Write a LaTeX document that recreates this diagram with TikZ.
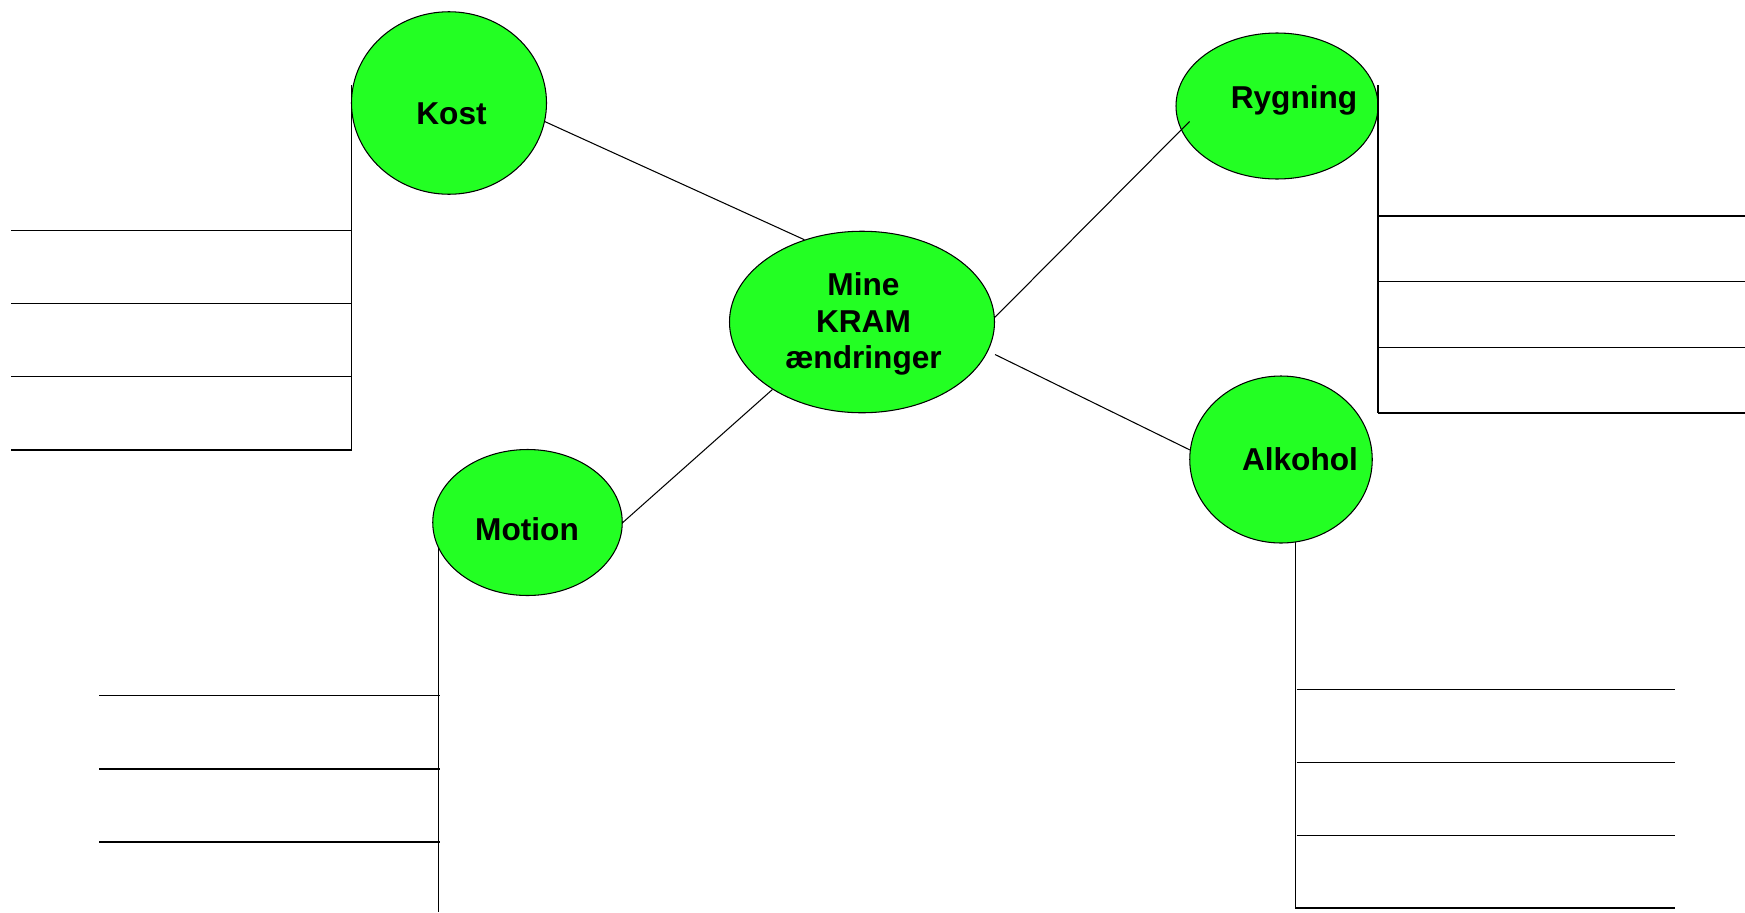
\documentclass[tikz,border=0pt]{standalone}
\usepackage{fontspec}
\setmainfont{Liberation Sans}
\usetikzlibrary{shapes.geometric}
\definecolor{kramgreen}{RGB}{35,255,35}

\begin{document}
\begin{tikzpicture}[line width=0.6pt,
 bubble/.style={draw,ellipse,fill=kramgreen,inner sep=0pt},
 tag/.style={font=\fontsize{18}{20.6}\selectfont\bfseries,inner sep=0pt,align=center}]
\useasboundingbox (0,0) rectangle (34.9,-18.24);
\node[bubble,minimum width=3.90cm,minimum height=3.65cm] (kost) at (8.98,-2.06) {};
\node[bubble,minimum width=5.30cm,minimum height=3.63cm] (mine) at (17.24,-6.44) {};
\node[bubble,minimum width=4.04cm,minimum height=2.92cm] (rygning) at (25.54,-2.12) {};
\node[bubble,minimum width=3.65cm,minimum height=3.34cm] (alkohol) at (25.62,-9.19) {};
\node[bubble,minimum width=3.79cm,minimum height=2.92cm] (motion) at (10.55,-10.45) {};
\node[tag,anchor=base] (kosttxt) at (9.03,-2.48) {Kost};
\node[tag] (minetxt) at (17.27,-6.48) {Mine\\KRAM\\ændringer};
\node[tag,anchor=base] (rygningtxt) at (25.88,-2.16) {Rygning};
\node[tag,anchor=base] (alkoholtxt) at (26.00,-9.40) {Alkohol};
\node[tag,anchor=base] (motiontxt) at (10.54,-10.80) {Motion};
% connectors
\draw (kost.349) -- (mine.125.6);
\draw (mine.2.5) -- ([shift={(-1.75,-0.31)}]rygning.center);
\draw ([yshift=-0.65cm]mine.east) -- (alkohol.174);
\draw (mine.217) -- (motion.east);
% writing lines
\draw (7.03,-1.70) -- (7.03,-9.00);
\foreach \y in {-4.61,-6.07,-7.53,-9.00} \draw (0.23,\y) -- (7.03,\y);
\draw (27.56,-1.70) -- (27.56,-8.26);
\foreach \y in {-4.32,-5.63,-6.95,-8.26} \draw (27.56,\y) -- (34.9,\y);
\draw (motion.196.5) -- (motion.196.5 |- 0,-18.24);
\foreach \y in {-13.91,-15.38,-16.84} \draw (1.98,\y) -- (8.79,\y);
\draw (alkohol.280.7) |- (33.50,-18.16);
\foreach \y in {-13.79,-15.25,-16.71} \draw (25.93,\y) -- (33.50,\y);
\end{tikzpicture}
\end{document}
